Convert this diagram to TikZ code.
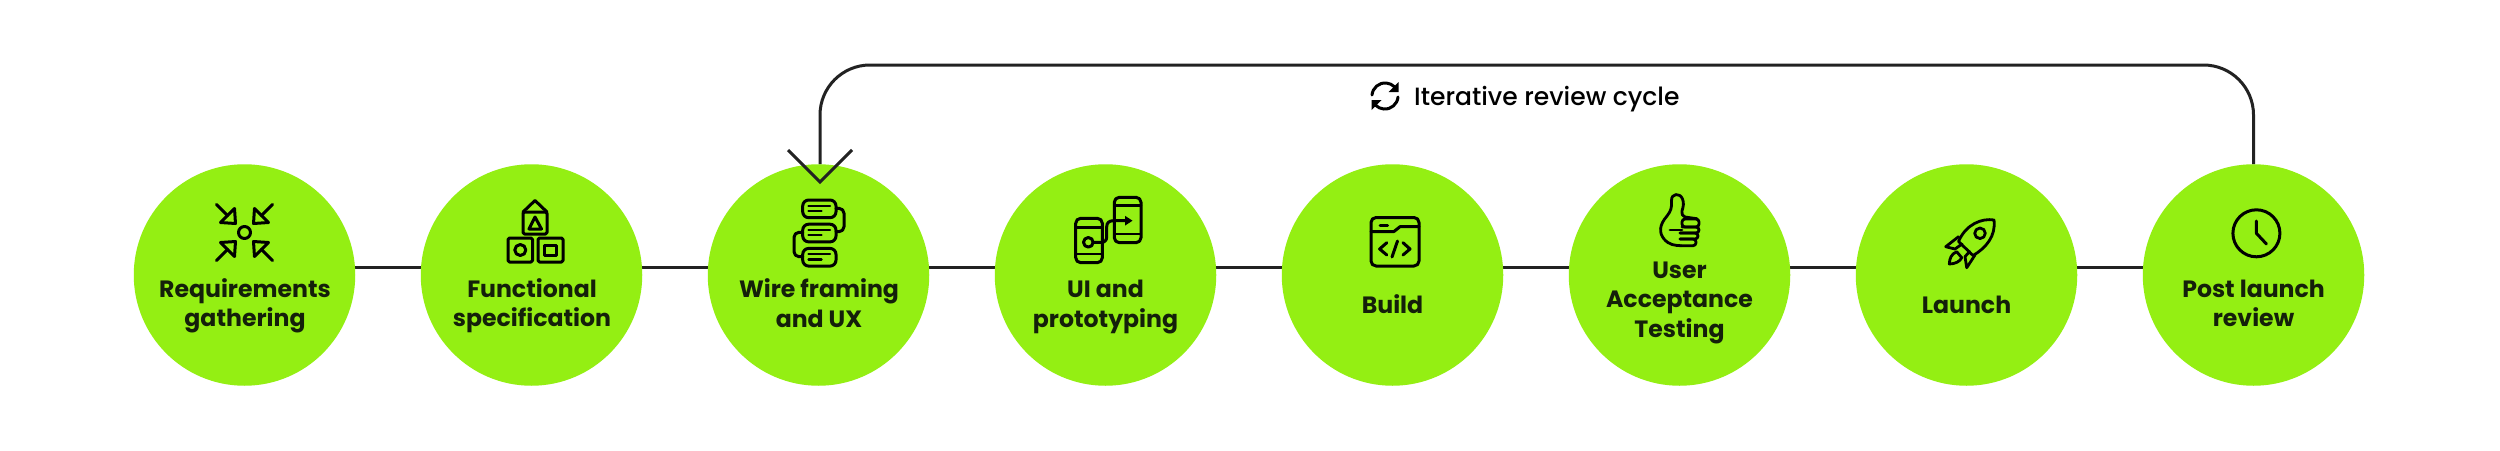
\documentclass[tikz,border=0pt]{standalone}
\usepackage{fontspec}
\setmainfont{Poppins}
\newfontfamily\medfont{Poppins Medium}
\usetikzlibrary{backgrounds,arrows.meta}
\definecolor{lime}{HTML}{94EF13}
\definecolor{ink}{HTML}{14200A}
\definecolor{wire}{HTML}{222222}
\newcommand\lst{\rule[-9.5pt]{0pt}{29.5pt}}
\tikzset{
  x=1pt,y=-1pt,
  stage/.style={circle,fill=lime,draw=none,minimum size=221.5pt,inner sep=0pt,outer sep=0pt},
  caption/.style={align=center,font=\fontsize{23.6}{29.5}\selectfont\bfseries,text=ink,inner sep=0pt},
  conn/.style={draw=wire,line width=3pt},
  ico/.style={draw=black,line width=3pt,line join=round,line cap=round},
  icothin/.style={draw=black,line width=2.4pt,line join=round,line cap=round},
}
\begin{document}
\begin{tikzpicture}
\useasboundingbox (0,0) rectangle (2500,450);
\node[stage] (n1) at (244.5,275) {};
\node[stage] (n2) at (531.5,275) {};
\node[stage] (n3) at (818.5,275) {};
\node[stage] (n4) at (1105.5,275) {};
\node[stage] (n5) at (1392.5,275) {};
\node[stage] (n6) at (1679.5,275) {};
\node[stage] (n7) at (1966.5,275) {};
\node[stage] (n8) at (2253.5,275) {};
\coordinate (rail) at (0,267);
\coordinate (looptop) at (0,65);
\coordinate (tip) at (820,182);
\begin{scope}[on background layer]
\fill[white] (0,0) rectangle (2500,450);
\foreach \a/\b in {n1/n2,n2/n3,n3/n4,n4/n5,n5/n6,n6/n7,n7/n8}
  \draw[conn] (\a |- rail) -- (\b |- rail);
\draw[conn,rounded corners=50pt] (n8.north) -- (n8.north |- looptop) -- (tip |- looptop) -- (tip |- n3.north);
\end{scope}
\draw[conn] ([shift={(-32,-32)}]tip) -- (tip) -- ([shift={(32,-32)}]tip);

\node[caption] (t1) at (245,306.5) {\lst Requirements\\\lst gathering};
\node[caption] (t2) at (532,306.5) {\lst Functional\\\lst specification};
\node[caption] (t3) at (819,307) {\lst Wire framing\\\lst and UX};
\node[caption] (t4) at (1105.5,307) {\lst UI and\\\lst prototyping};
\node[caption] (t5) at (1392.5,308) {\lst Build};
\node[caption] (t6) at (1679.5,302.5) {\lst User\\\lst Acceptance\\\lst Testing};
\node[caption] (t7) at (1966.5,308) {\lst Launch};
\node[caption] (t8) at (2253.5,306.5) {\lst Post launch\\\lst review};
\node[anchor=base west,inner sep=0pt,font=\fontsize{25}{30}\selectfont\medfont,text=black] (cyc) at (1414,105) {Iterative review cycle};

% refresh icon
\begin{scope}[shift={(1385,96)}]
\draw[ico] (-13,-1) arc[start angle=-175,end angle=-45,radius=13.2];
\draw[ico] (13,1) arc[start angle=5,end angle=135,radius=13.2];
\fill[black] (13.5,-14) -- (13.5,-4) -- (3.5,-4) -- cycle;
\fill[black] (-13.5,14) -- (-13.5,4) -- (-3.5,4) -- cycle;
\end{scope}

% icon 1: arrows to centre
\begin{scope}[shift={(244.5,232.5)}]
\draw[ico] (0,0) circle[radius=6];
\foreach \sx/\sy in {1/1,-1/1,1/-1,-1/-1}{
  \begin{scope}[xscale=\sx,yscale=\sy]
  \draw[ico] (-28,-28) -- (-17,-17);
  \draw[ico] (-24,-10) -- (-9,-9) -- (-10,-24) -- cycle;
  \end{scope}}
\end{scope}

% icon 2: blocks
\draw[ico,rounded corners=1.5pt] (523,234) rectangle (547,212);
\draw[ico] (523,212) -- (535,200.5) -- (547,212);
\draw[ico] (535,217) -- (529,229) -- (541.5,229) -- cycle;
\draw[ico,rounded corners=1.5pt] (508,238) rectangle (532.5,262);
\draw[ico] (520.3,250) circle[radius=5.5];
\draw[ico,rounded corners=1.5pt] (538,238) rectangle (563,262);
\draw[ico] (544.5,245.5) rectangle (556,255);

% icon 3: wireframe
\foreach \d in {0,24.2,48.4}{
  \draw[ico,rounded corners=6pt] (802.7,200+\d) rectangle (836,217.7+\d);
  \draw[icothin] (808.5,205.7+\d) -- (830,205.7+\d);
  \draw[icothin] (808.5,210.9+\d) -- (821.5,210.9+\d);
}
\draw[ico,rounded corners=5pt] (836,208.3) -- (844,208.3) -- (844,231.7) -- (836,231.7);
\draw[ico,rounded corners=5pt] (802.7,232.3) -- (794,232.3) -- (794,256.7) -- (802.7,256.7);

% icon 4: phones
\draw[ico,rounded corners=5pt] (1075.7,218.3) rectangle (1102.3,262.7);
\draw[icothin] (1075.7,227.3) -- (1102.3,227.3);
\draw[icothin] (1075.7,254) -- (1102.3,254);
\draw[ico,rounded corners=5pt] (1114.3,197.3) rectangle (1141,242.7);
\draw[icothin] (1114.3,205.5) -- (1141,205.5);
\draw[icothin] (1114.3,234) -- (1141,234);
\draw[ico] (1088.3,242.3) circle[radius=4.8];
\draw[ico] (1093.1,242.3) -- (1101.5,242.3) .. controls (1105,242.3) and (1106.7,240) .. (1106.7,236.7) -- (1106.7,226.7) .. controls (1106.7,223) and (1109,220.7) .. (1113.3,220.7) -- (1129,220.7);
\fill[black] (1125,215.8) -- (1132.5,220.7) -- (1125,225.6) -- cycle;

% icon 5: code window
\draw[ico,rounded corners=5pt] (1371,217.5) rectangle (1419,266);
\draw[ico] (1371,231.5) -- (1394,231.5) -- (1400,226.7) -- (1419,226.7);
\draw[ico] (1380,225.3) -- (1387.5,225.3);
\draw[ico] (1386.8,242.7) -- (1379.6,249) -- (1386.8,255);
\draw[ico] (1403,242.7) -- (1410,249) -- (1403,255);
\draw[ico] (1397.5,241) -- (1392,257);

% icon 6: thumb up
\draw[icothin,line width=2.8pt] (1697,218.7) -- (1685,217) .. controls (1682,216) and (1681.5,214) .. (1682,211) .. controls (1683.5,206) and (1684,203) .. (1682.5,199) .. controls (1680,192.5) and (1671,193) .. (1671.5,201) .. controls (1672,207) and (1671,211) .. (1667,216) .. controls (1659,225) and (1659,233) .. (1664,239) .. controls (1669,245) and (1675,245.5) .. (1681,245.7);
\draw[icothin,line width=2.8pt,rounded corners=3pt] (1682,219) -- (1699,219) -- (1699,227) -- (1682,227) -- cycle;
\draw[icothin,line width=2.8pt,rounded corners=3pt] (1682,227) -- (1699,227) -- (1699,233) -- (1680,233);
\draw[icothin,line width=2.8pt,rounded corners=3pt] (1680,233) -- (1698,233) -- (1698,239) -- (1680,239);
\draw[icothin,line width=2.8pt,rounded corners=3pt] (1680,239) -- (1696,239) -- (1696,245.7) -- (1681,245.7);
\draw[icothin,line width=2.8pt] (1670,230) -- (1682,230);

% icon 7: rocket
\draw[icothin,line width=2.8pt] (1994,220) .. controls (1982,218) and (1966,224) .. (1958.5,241.5) -- (1973,255.5) .. controls (1986,248) and (1996,236) .. (1994,220) -- cycle;
\draw[icothin,line width=2.8pt] (1980,233.3) circle[radius=5.3];
\draw[icothin,line width=2.8pt] (1958.5,236.7) -- (1945.7,246.7) -- (1955,249) -- (1962,244);
\draw[icothin,line width=2.8pt] (1975,255) -- (1966.7,267.7) -- (1965,256.7) -- (1969.5,251.5);
\draw[icothin,line width=2.8pt] (1956.7,251.7) .. controls (1951,254) and (1949.5,259) .. (1949.3,264) .. controls (1955,264) and (1960,261.5) .. (1961.7,257.7) -- cycle;

% icon 8: clock
\draw[ico] (2256.4,233.3) circle[radius=23.5];
\draw[ico] (2256.4,221) -- (2256.4,233.3) -- (2266.4,244);
\end{tikzpicture}
\end{document}
